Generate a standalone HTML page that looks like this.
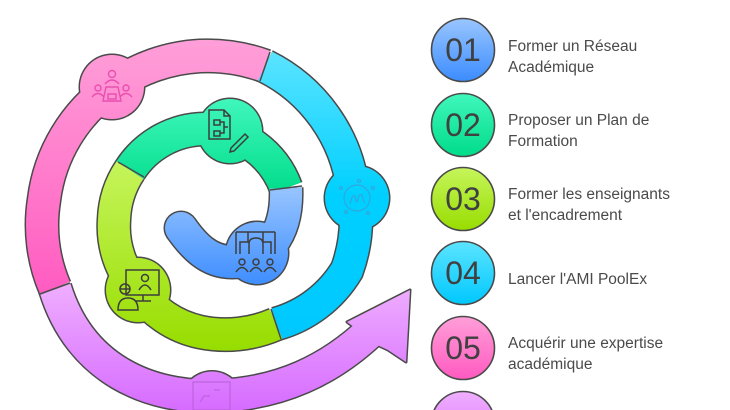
<!DOCTYPE html>
<html><head><meta charset="utf-8"><style>
html,body{margin:0;padding:0;background:#fff;width:730px;height:410px;overflow:hidden}
svg{display:block}
.lbl{font-family:"Liberation Sans",sans-serif;font-size:15.5px;fill:#4a4a4a}
.num{font-family:"Liberation Sans",sans-serif;font-size:32px;fill:#404040;text-anchor:middle}
</style></head><body>
<svg width="730" height="410" viewBox="0 0 730 410" xmlns="http://www.w3.org/2000/svg">
<defs>
<linearGradient id="gPink" gradientUnits="userSpaceOnUse" x1="0" y1="40" x2="0" y2="300"><stop offset="0" stop-color="#ff9fd8"/><stop offset="1" stop-color="#ff5ac0"/></linearGradient>
<linearGradient id="gCyan" gradientUnits="userSpaceOnUse" x1="0" y1="50" x2="0" y2="340"><stop offset="0" stop-color="#5ce4ff"/><stop offset="0.5" stop-color="#00d0ff"/><stop offset="1" stop-color="#00c8ff"/></linearGradient>
<linearGradient id="gGreen" gradientUnits="userSpaceOnUse" x1="0" y1="98" x2="0" y2="195"><stop offset="0" stop-color="#40f7bc"/><stop offset="1" stop-color="#00dc8a"/></linearGradient>
<linearGradient id="gLime" gradientUnits="userSpaceOnUse" x1="0" y1="160" x2="0" y2="350"><stop offset="0" stop-color="#c6f55c"/><stop offset="1" stop-color="#98dd00"/></linearGradient>
<linearGradient id="gBlue" gradientUnits="userSpaceOnUse" x1="0" y1="185" x2="0" y2="288"><stop offset="0" stop-color="#9ac6ff"/><stop offset="1" stop-color="#3b8cff"/></linearGradient>
<linearGradient id="gPurp" gradientUnits="userSpaceOnUse" x1="0" y1="280" x2="0" y2="410"><stop offset="0" stop-color="#f0b0ff"/><stop offset="1" stop-color="#d66cff"/></linearGradient>
<linearGradient id="c1" x1="0" y1="0" x2="0" y2="1"><stop offset="0" stop-color="#9ac6ff"/><stop offset="1" stop-color="#3b8cff"/></linearGradient>
<linearGradient id="c2" x1="0" y1="0" x2="0" y2="1"><stop offset="0" stop-color="#40f7bc"/><stop offset="1" stop-color="#00dc8a"/></linearGradient>
<linearGradient id="c3" x1="0" y1="0" x2="0" y2="1"><stop offset="0" stop-color="#c6f55c"/><stop offset="1" stop-color="#98dd00"/></linearGradient>
<linearGradient id="c4" x1="0" y1="0" x2="0" y2="1"><stop offset="0" stop-color="#5ce4ff"/><stop offset="1" stop-color="#00c8ff"/></linearGradient>
<linearGradient id="c5" x1="0" y1="0" x2="0" y2="1"><stop offset="0" stop-color="#ff9fd8"/><stop offset="1" stop-color="#ff5ac0"/></linearGradient>
<linearGradient id="c6" x1="0" y1="0" x2="0" y2="1"><stop offset="0" stop-color="#f0b0ff"/><stop offset="1" stop-color="#d66cff"/></linearGradient>
</defs>

<!-- outlines -->
<g fill="none" stroke="#4a4a4a" stroke-width="35">
<path d="M55,288 C80,370 150,398 215,396 C280,394 330,370 372,330"/>
<path d="M55,288 A160 160 0 0 1 44,200 A162 162 0 0 1 112,87 A166 166 0 0 1 200,56 A168 168 0 0 1 265,66"/>
<path d="M265,66 A160 160 0 0 1 353,190 A150 150 0 0 1 347,270 A120 120 0 0 1 276,324"/>
<path d="M276,324 A125 125 0 0 1 200,332 A100 100 0 0 1 138,290 A95 95 0 0 1 114,220 A95 95 0 0 1 130,170"/>
<path d="M130,170 A90 90 0 0 1 205,129 A90 90 0 0 1 286,188"/>
<path d="M286,188 C288,235 265,262 232,262 C208,262 193,245 181,228"/>
</g>
<circle cx="181" cy="228" r="17.5" fill="#4a4a4a"/>
<polygon points="410,290 347,322 362,333 358,336 388,350 406,362" fill="#4a4a4a" stroke="#4a4a4a" stroke-width="3" stroke-linejoin="round"/>
<g fill="#4a4a4a">
<circle cx="112" cy="87" r="33.5"/><circle cx="357" cy="198" r="33.5"/><circle cx="230" cy="131" r="33.5"/>
<circle cx="257" cy="253" r="32.5"/><circle cx="138" cy="290" r="33.5"/><circle cx="212" cy="402" r="32"/>
</g>
<!-- fills -->
<g fill="none" stroke-width="32">
<path d="M55,288 C80,370 150,398 215,396 C280,394 330,370 372,330" stroke="url(#gPurp)"/>
<path d="M55,288 A160 160 0 0 1 44,200 A162 162 0 0 1 112,87 A166 166 0 0 1 200,56 A168 168 0 0 1 265,66" stroke="url(#gPink)"/>
<path d="M265,66 A160 160 0 0 1 353,190 A150 150 0 0 1 347,270 A120 120 0 0 1 276,324" stroke="url(#gCyan)"/>
<path d="M276,324 A125 125 0 0 1 200,332 A100 100 0 0 1 138,290 A95 95 0 0 1 114,220 A95 95 0 0 1 130,170" stroke="url(#gLime)"/>
<path d="M130,170 A90 90 0 0 1 205,129 A90 90 0 0 1 286,188" stroke="url(#gGreen)"/>
<path d="M286,188 C288,235 265,262 232,262 C208,262 193,245 181,228" stroke="url(#gBlue)"/>
</g>
<circle cx="181" cy="228" r="16" fill="url(#gBlue)"/>
<polygon points="410,290 347,322 362,333 358,336 388,350 406,362" fill="url(#gPurp)"/>
<circle cx="112" cy="87" r="32" fill="url(#gPink)"/>
<circle cx="357" cy="198" r="32" fill="url(#gCyan)"/>
<circle cx="230" cy="131" r="32" fill="url(#gGreen)"/>
<circle cx="257" cy="253" r="31" fill="url(#gBlue)"/>
<circle cx="138" cy="290" r="32" fill="url(#gLime)"/>
<circle cx="212" cy="402" r="30.5" fill="url(#gPurp)"/>
<!-- boundary lines -->
<g stroke="#4a4a4a" stroke-width="1.5">
<line x1="40" y1="294" x2="70" y2="283"/>
<line x1="270" y1="52" x2="260" y2="81"/>
<line x1="281" y1="339" x2="271" y2="309"/>
<line x1="118" y1="162" x2="144" y2="177"/>
<line x1="270" y1="190" x2="302" y2="186"/>
</g>
<!-- icons -->
<g fill="none" stroke="#e94fb0" stroke-width="1.4">
<circle cx="112" cy="74" r="3.5"/><path d="M105,84 q7,-8 14,0"/>
<path d="M106,87 h12 l3,14 h-18z"/><rect x="108" y="94" width="8" height="5"/>
<circle cx="98" cy="88" r="3"/><path d="M92,97 q6,-7 12,0"/>
<circle cx="126" cy="88" r="3"/><path d="M120,97 q6,-7 12,0"/>
</g>
<g fill="none" stroke="#3aa0d8" stroke-width="1.3" opacity="0.8">
<circle cx="357" cy="198" r="13"/><path d="M350,204 q2,-10 5,-8 q1,6 2,6 q2,-9 5,-7 q1,6 3,8"/>
<circle cx="341" cy="188" r="1.5"/><circle cx="373" cy="188" r="1.5"/><circle cx="346" cy="212" r="1.5"/><circle cx="368" cy="213" r="1.5"/><circle cx="359" cy="181" r="1.5"/>
</g>
<g fill="none" stroke="#3d3d3d" stroke-width="1.5">
<path d="M209,110 h15 l6,6 v23 h-21z M224,110 v6 h6"/>
<rect x="214" y="120" width="6" height="5"/><rect x="214" y="131" width="6" height="5"/><path d="M220,122 h4 v11 h-4 M224,127 h4"/>
<path d="M231,148 l14,-14 l3,3 l-14,14 l-4,1z"/>
<path d="M236,232 h39 M236,232 v22 M275,232 v22 M248,232 v10 h-8 v12 M263,232 v10 h8 v12 M249,254 v-10 q0,-6 7,-6 q7,0 7,6 v10"/>
<circle cx="242" cy="262" r="3"/><path d="M236,272 q6,-9 12,0"/>
<circle cx="256" cy="262" r="3"/><path d="M250,272 q6,-9 12,0"/>
<circle cx="270" cy="262" r="3"/><path d="M264,272 q6,-9 12,0"/>
<rect x="126" y="270" width="33" height="25"/><path d="M143,295 v6 h-8 M143,301 h8"/>
<circle cx="145" cy="278" r="3.5"/><path d="M139,290 q6,-10 12,0"/>
<circle cx="125" cy="289" r="5"/><path d="M120,289 h10"/><path d="M118,310 q0,-12 10,-12 q10,0 10,12z"/>
</g>
<g fill="none" stroke="#b860d8" stroke-width="1.3" opacity="0.8">
<rect x="193" y="382" width="37" height="28"/><path d="M200,402 l4,-6 h6 M214,390 h6 M217,387 v0 M217,393 v0"/>
</g>

<!-- list -->
<g stroke="#4a4a4a" stroke-width="1.6">
<circle cx="463" cy="50" r="31.5" fill="url(#c1)"/>
<circle cx="463" cy="125" r="31.5" fill="url(#c2)"/>
<circle cx="463" cy="199" r="31.5" fill="url(#c3)"/>
<circle cx="463" cy="273" r="31.5" fill="url(#c4)"/>
<circle cx="463" cy="348" r="31.5" fill="url(#c5)"/>
<circle cx="463" cy="423" r="31.5" fill="url(#c6)"/>
</g>
<text class="num" x="463" y="61">01</text>
<text class="num" x="463" y="136">02</text>
<text class="num" x="463" y="210">03</text>
<text class="num" x="463" y="284">04</text>
<text class="num" x="463" y="359">05</text>
<text class="lbl" x="508" y="51">Former un Réseau</text>
<text class="lbl" x="508" y="72">Académique</text>
<text class="lbl" x="508" y="125">Proposer un Plan de</text>
<text class="lbl" x="508" y="146">Formation</text>
<text class="lbl" x="508" y="199">Former les enseignants</text>
<text class="lbl" x="508" y="220">et l'encadrement</text>
<text class="lbl" x="508" y="284">Lancer l'AMI PoolEx</text>
<text class="lbl" x="508" y="348">Acquérir une expertise</text>
<text class="lbl" x="508" y="369">académique</text>
</svg>
</body></html>
